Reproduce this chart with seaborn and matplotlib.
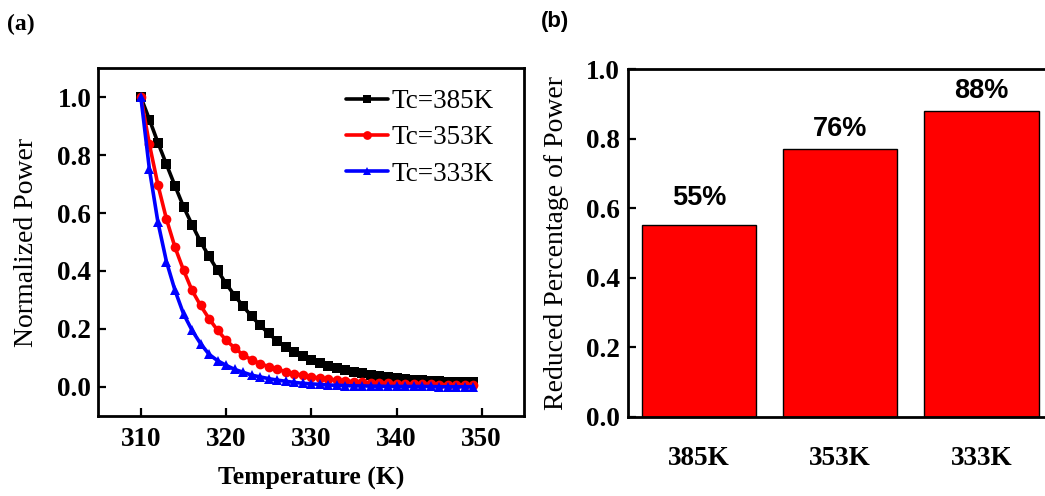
import numpy as np
import pandas as pd
import matplotlib
matplotlib.use("Agg")
import matplotlib.pyplot as plt
import seaborn as sns

# ---------------- data ----------------
temperature = list(range(310, 350))
power_385 = [1.000, 0.923, 0.843, 0.768, 0.694, 0.622, 0.560, 0.501, 0.450, 0.402,
             0.356, 0.315, 0.278, 0.243, 0.212, 0.184, 0.158, 0.138, 0.120, 0.106,
             0.094, 0.083, 0.072, 0.065, 0.059, 0.052, 0.046, 0.041, 0.037, 0.033,
             0.030, 0.027, 0.025, 0.023, 0.021, 0.019, 0.018, 0.017, 0.016, 0.015]
power_353 = [1.000, 0.837, 0.697, 0.579, 0.482, 0.403, 0.333, 0.281, 0.235, 0.195,
             0.161, 0.134, 0.110, 0.093, 0.080, 0.069, 0.060, 0.052, 0.045, 0.040,
             0.034, 0.030, 0.026, 0.023, 0.020, 0.018, 0.016, 0.014, 0.013, 0.012,
             0.011, 0.010, 0.009, 0.008, 0.008, 0.007, 0.007, 0.006, 0.006, 0.006]
power_333 = [1.000, 0.751, 0.568, 0.432, 0.333, 0.252, 0.195, 0.149, 0.112, 0.090,
             0.074, 0.060, 0.050, 0.040, 0.034, 0.028, 0.023, 0.019, 0.015, 0.012,
             0.010, 0.008, 0.006, 0.005, 0.004, 0.003, 0.003, 0.002, 0.002, 0.001,
             0.001, 0.001, 0.001, 0.001, 0.001, 0.000, 0.000, 0.000, 0.000, 0.000]
series_labels = ["Tc=385K", "Tc=353K", "Tc=333K"]

bar_categories = ["385K", "353K", "333K"]
bar_values = [0.552, 0.770, 0.881]
bar_labels = ["55%", "76%", "88%"]

x_ticks = [310, 320, 330, 340, 350]
y_ticks_left = [0.0, 0.2, 0.4, 0.6, 0.8, 1.0]
y_ticks_right = [0.0, 0.2, 0.4, 0.6, 0.8, 1.0]

# ---------------- style ----------------
sns.set_style("ticks")
plt.rcParams["font.family"] = ["Liberation Serif", "DejaVu Serif"]
plt.rcParams["axes.linewidth"] = 2.0
for key in ["text.color", "axes.labelcolor", "xtick.color", "ytick.color", "axes.edgecolor"]:
    plt.rcParams[key] = "black"

W, H = 1045, 496
fig = plt.figure(figsize=(W / 100, H / 100), dpi=100)

def px_axes(left, top, right, bottom):
    return fig.add_axes([left / W, 1 - bottom / H, (right - left) / W, (bottom - top) / H])

# ---------------- panel (a) ----------------
ax1 = px_axes(98.3, 68.3, 524.3, 415.7)
df = pd.DataFrame({
    "T": temperature * 3,
    "P": power_385 + power_353 + power_333,
    "Series": sum([[s] * len(temperature) for s in series_labels], []),
})
palette = {"Tc=385K": "#000000", "Tc=353K": "#ff0000", "Tc=333K": "#0000ff"}
markers = {"Tc=385K": "s", "Tc=353K": "o", "Tc=333K": "^"}
sns.lineplot(data=df, x="T", y="P", hue="Series", style="Series",
             palette=palette, markers=markers, dashes=False,
             linewidth=2.6, markersize=7, markeredgewidth=0,
             ax=ax1, legend=True)
ax1.set_xlim(305, 355)
ax1.set_ylim(-0.1, 1.1)
ax1.set_xticks(x_ticks)
ax1.set_yticks(y_ticks_left)
ax1.set_xticklabels([str(t) for t in x_ticks])
ax1.set_yticklabels([f"{v:.1f}" for v in y_ticks_left])
for lab in ax1.get_xticklabels() + ax1.get_yticklabels():
    lab.set_fontweight("bold")
    lab.set_fontsize(19.5)
ax1.tick_params(axis="both", direction="in", length=5.5, width=1.6)
ax1.tick_params(axis="x", pad=8)
ax1.tick_params(axis="y", pad=5)
ax1.set_xlabel("Temperature (K)", fontsize=18.5, fontweight="bold", labelpad=11)
ax1.set_ylabel("Normalized Power", fontsize=20, labelpad=13)
for sp in ax1.spines.values():
    sp.set_visible(True)
    sp.set_linewidth(2.0)
leg = ax1.legend(loc="upper right", bbox_to_anchor=(0.972, 0.995), frameon=False,
                 fontsize=19.5, handlelength=1.55, handletextpad=0.12,
                 labelspacing=0.42, borderaxespad=0.3, markerscale=0.9)
for h in leg.legend_handles:
    h.set_linewidth(2.6)

# ---------------- panel (b) ----------------
ax2 = px_axes(628.3, 69.3, 1052, 416.7)
sns.barplot(x=bar_categories, y=bar_values, color="#ff0000", saturation=1,
            edgecolor="black", linewidth=1.0, width=0.81, ax=ax2)
ax2.set_xlim(-0.5, 2.5)
ax2.set_ylim(0, 1.0)
ax2.set_yticks(y_ticks_right)
ax2.set_yticklabels([f"{v:.1f}" for v in y_ticks_right])
for lab in ax2.get_xticklabels() + ax2.get_yticklabels():
    lab.set_fontweight("bold")
    lab.set_fontsize(19.5)
ax2.tick_params(axis="both", direction="in", length=5.5, width=1.6)
ax2.tick_params(axis="x", pad=21)
ax2.tick_params(axis="y", pad=6)
ax2.set_ylabel("Reduced Percentage of Power", fontsize=20, labelpad=12)
ax2.set_xlabel("")
for sp in ax2.spines.values():
    sp.set_visible(True)
    sp.set_linewidth(2.0)

label_offsets = [14, 7, 7]
for i, (v, t) in enumerate(zip(bar_values, bar_labels)):
    ax2.annotate(t, xy=(i, v), xytext=(0, label_offsets[i]), textcoords="offset pixels",
                 ha="center", va="bottom", fontsize=19.5, fontweight="bold",
                 family=["Liberation Sans", "DejaVu Sans"])

# panel tags
fig.text(7 / W, 1 - 30 / H, "(a)", fontsize=17, fontweight="bold",
         family=["Liberation Serif", "DejaVu Serif"])
fig.text(541 / W, 1 - 27 / H, "(b)", fontsize=16, fontweight="bold",
         family=["Liberation Sans", "DejaVu Sans"])

fig.savefig("out.png", dpi=100)
